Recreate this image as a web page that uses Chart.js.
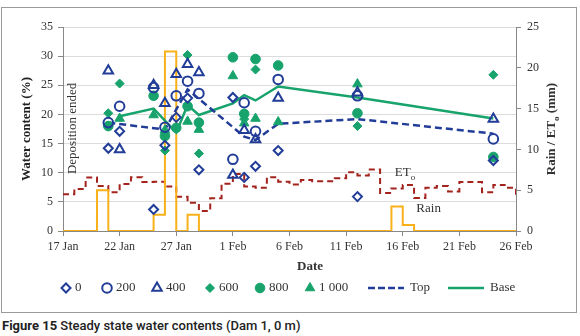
<!DOCTYPE html>
<html>
<head>
<meta charset="utf-8">
<script src="https://cdn.jsdelivr.net/npm/chart.js@4"></script>
<style>
body { margin: 0; background: #fff; width: 580px; height: 336px; position: relative; overflow: hidden; }
#frame { position: absolute; left: 1px; top: 7px; width: 574px; height: 304px; border: 1px solid #9a9a9a; }
#caption { position: absolute; left: 2px; top: 318px; font-family: "Liberation Sans Narrow", "Roboto", sans-serif; font-size: 13px; font-weight: 500; color: #222; white-space: nowrap; }
#caption b { font-weight: 700; }
</style>
</head>
<body>
<div id="frame"><canvas id="chart" width="574" height="304"></canvas></div>
<div id="caption"><b>Figure 15</b> Steady state water contents (Dam 1, 0 m)</div>
<script>
// x axis is days since 17 Jan
var dayLabels = ['17 Jan', '22 Jan', '27 Jan', '1 Feb', '6 Feb', '11 Feb', '16 Feb', '21 Feb', '26 Feb'];

// water content (%) per sensor depth (mm), on the sampling days
var sampleDays = [4, 5, 8, 9, 10, 11, 12, 15, 16, 17, 19, 26, 38];
var depth0    = [14.2, 17.1, 3.7, 14.7, 19.5, 22.8, 10.5, 22.9, 9.2, 11.1, 13.8, 5.9, 12.1];
var depth200  = [18.6, 21.4, 24.6, 17.8, 23.2, 25.7, 23.6, 12.3, 22.0, 17.1, 26.0, 23.2, 15.8];
var depth400  = [27.5, 14.0, 25.0, 21.9, 26.9, 28.6, 27.2, 9.6, 17.3, 15.7, 22.8, 23.7, 19.2];
var depth600  = [20.2, 25.3, null, 13.8, null, 30.2, 13.3, null, 19.2, 27.7, null, 18.0, 26.8];
var depth800  = [18.0, null, 23.2, 16.3, 17.7, 21.4, 18.6, 29.8, 20.1, 29.5, 28.4, 20.2, 12.7];
var depth1000 = [null, 19.3, 19.9, 17.3, null, 18.8, 17.4, 26.6, 18.5, 19.3, 18.7, 25.2, null];

var topDays = [4, 9, 11, 16, 17, 19, 26, 38];
var topValues = [18.6, 17.4, 24.3, 16.2, 15.6, 18.4, 19.2, 16.7];
var baseDays = [5, 8, 10, 11, 12, 15, 16, 17, 19, 26, 38];
var baseValues = [19.7, 21.0, 16.9, 21.6, 19.9, 21.9, 23.3, 22.4, 24.8, 22.9, 19.3];

// daily values (mm), day 0 = 17 Jan
var etoMm = [4.5, 5.15, 6.55, 5.5, 4.75, 5.75, 6.6, 6.0, 6.05, 5.45, 4.2, 3.45, 2.45, 4.0, 5.8, 7.0, 5.45, 5.3, 6.6, 6.05,
             5.7, 6.25, 6.1, 6.1, 6.45, 7.2, 6.8, 7.55, 4.65, 5.2, 5.65, 4.05, 5.3, 5.5, 4.85, 6.0, 6.0, 4.75, 5.65, 5.3, 4.0];
var rainMm = [0, 0, 0, 5.0, 0, 0, 0, 0, 2.0, 22.0, 0, 2.0, 0, 0, 0, 0, 0, 0, 0, 0,
              0, 0, 0, 0, 0, 0, 0, 0, 0, 3.0, 0.75, 0, 0, 0, 0, 0, 0, 0, 0, 0, 0];

var BLUE = '#223d98', GREEN = '#17a36b', RED = '#a3231d', ORANGE = '#f9b11a';
var SERIF = '"Liberation Serif", "DejaVu Serif", serif';

function pts(xs, ys) {
    var out = [];
    for (var i = 0; i < xs.length; i++) {
        if (ys[i] !== null) out.push({x: xs[i], y: ys[i]});
    }
    return out;
}
function daily(vals) {
    return vals.map(function (v, i) { return {x: i, y: v}; });
}

function marker(label, data, style, color, open, r) {
    return {
        label: label, data: pts(sampleDays, data),
        pointStyle: style, pointRadius: r, pointHoverRadius: r,
        borderColor: color, backgroundColor: open ? 'rgba(255,255,255,0)' : color,
        pointBorderWidth: open ? 2 : 1
    };
}

var legendItems = [
    {text: '0', x: 64, style: 'rectRot', color: BLUE, open: true, r: 4.5},
    {text: '200', x: 105, style: 'circle', color: BLUE, open: true, r: 4.8},
    {text: '400', x: 155, style: 'triangle', color: BLUE, open: true, r: 5.5},
    {text: '600', x: 208, style: 'rectRot', color: GREEN, open: false, r: 4.5},
    {text: '800', x: 258, style: 'circle', color: GREEN, open: false, r: 4.8},
    {text: '1 000', x: 308, style: 'triangle', color: GREEN, open: false, r: 5.5},
    {text: 'Top', x: 366, line: [7, 3], color: BLUE},
    {text: 'Base', x: 446, line: [], color: GREEN}
];

var extras = {
    id: 'extras',
    afterDraw: function (chart) {
        var ctx = chart.ctx, xs = chart.scales.x, y = chart.scales.y, y2 = chart.scales.y2;
        ctx.save();
        ctx.fillStyle = '#333';
        ctx.textBaseline = 'middle';

        // Deposition ended
        ctx.save();
        ctx.translate(xs.getPixelForValue(0.85), y.getPixelForValue(17.6));
        ctx.rotate(-Math.PI / 2);
        ctx.textAlign = 'center';
        ctx.font = '13px ' + SERIF;
        ctx.fillText('Deposition ended', 0, 0);
        ctx.restore();

        // ETo and Rain labels
        ctx.font = '13px ' + SERIF;
        ctx.textAlign = 'left';
        var ex = xs.getPixelForValue(29.3), ey = y2.getPixelForValue(7.2);
        ctx.fillText('ET', ex, ey);
        var w = ctx.measureText('ET').width;
        ctx.font = '9px ' + SERIF;
        ctx.fillText('o', ex + w, ey + 5);
        ctx.font = '13px ' + SERIF;
        ctx.fillText('Rain', xs.getPixelForValue(31.2), y2.getPixelForValue(2.8));

        // right axis title, reads bottom to top
        ctx.save();
        ctx.translate(550, (chart.chartArea.top + chart.chartArea.bottom) / 2);
        ctx.rotate(-Math.PI / 2);
        var a = 'Rain / ET', b = ' (mm)';
        ctx.font = 'bold 13px ' + SERIF;
        var wa = ctx.measureText(a).width, wb = ctx.measureText(b).width;
        ctx.font = 'bold 9px ' + SERIF;
        var wo = ctx.measureText('o').width;
        var x0 = -(wa + wo + wb) / 2;
        ctx.font = 'bold 13px ' + SERIF;
        ctx.fillText(a, x0, 0);
        ctx.fillText(b, x0 + wa + wo, 0);
        ctx.font = 'bold 9px ' + SERIF;
        ctx.fillText('o', x0 + wa, 5);
        ctx.restore();

        // x axis title
        ctx.font = 'bold 13px ' + SERIF;
        ctx.textAlign = 'center';
        ctx.fillText('Date', 308, 259);

        // legend row
        var ly = 280;
        legendItems.forEach(function (it) {
            ctx.strokeStyle = it.color;
            ctx.fillStyle = it.color;
            var tx;
            if (it.line) {
                ctx.lineWidth = 2.5;
                ctx.setLineDash(it.line);
                ctx.beginPath();
                ctx.moveTo(it.x, ly);
                ctx.lineTo(it.x + 36, ly);
                ctx.stroke();
                ctx.setLineDash([]);
                tx = it.x + 42;
            } else {
                ctx.lineWidth = it.open ? 2 : 1;
                ctx.fillStyle = it.open ? '#fff' : it.color;
                Chart.helpers.drawPoint(ctx, {pointStyle: it.style, radius: it.r, borderWidth: ctx.lineWidth, rotation: 0}, it.x, ly);
                tx = it.x + 9;
            }
            ctx.fillStyle = '#333';
            ctx.textAlign = 'left';
            ctx.font = '13px ' + SERIF;
            ctx.fillText(it.text, tx, ly);
        });
        ctx.restore();
    }
};

new Chart(document.getElementById('chart'), {
    type: 'scatter',
    data: {
        datasets: [
            marker('0', depth0, 'rectRot', BLUE, true, 4.5),
            marker('200', depth200, 'circle', BLUE, true, 4.8),
            marker('400', depth400, 'triangle', BLUE, true, 5.5),
            marker('600', depth600, 'rectRot', GREEN, false, 4.5),
            marker('800', depth800, 'circle', GREEN, false, 4.8),
            marker('1 000', depth1000, 'triangle', GREEN, false, 5.5),
            {label: 'Top', data: pts(topDays, topValues), showLine: true, pointRadius: 0,
             borderColor: BLUE, borderWidth: 2.5, borderDash: [7, 4]},
            {label: 'Base', data: pts(baseDays, baseValues), showLine: true, pointRadius: 0,
             borderColor: GREEN, borderWidth: 2.5},
            {label: 'Rain', data: daily(rainMm), yAxisID: 'y2', showLine: true, pointRadius: 0,
             stepped: true, borderColor: ORANGE, borderWidth: 2},
            {label: 'ETo', data: daily(etoMm), yAxisID: 'y2', showLine: true, pointRadius: 0,
             stepped: true, borderColor: RED, borderWidth: 2, borderDash: [6, 4]}
        ]
    },
    options: {
        responsive: false,
        animation: false,
        layout: {padding: {left: 0, right: 0, top: 19, bottom: 51}},
        plugins: {legend: {display: false}, tooltip: {enabled: false}},
        scales: {
            x: {
                type: 'linear', min: 0, max: 40,
                afterFit: function (s) { s.height = 30; },
                ticks: {stepSize: 5, padding: 4, color: '#333', font: {family: SERIF, size: 12},
                        callback: function (v) { return dayLabels[v / 5]; }},
                grid: {display: true, drawOnChartArea: false, tickLength: 5, color: '#888'},
                border: {color: '#888'}
            },
            y: {
                position: 'left', min: 0, max: 35,
                afterFit: function (s) { s.width = 61; },
                ticks: {stepSize: 5, padding: 5, color: '#333', font: {family: SERIF, size: 12}},
                grid: {color: '#dcdcdc', tickLength: 5, tickColor: '#888'},
                border: {color: '#888'},
                title: {display: true, text: 'Water content (%)', color: '#222',
                        font: {family: SERIF, size: 13, weight: 'bold'}, padding: {top: 17, bottom: 0}}
            },
            y2: {
                position: 'right', min: 0, max: 25,
                afterFit: function (s) { s.width = 60; },
                ticks: {stepSize: 5, padding: 6, color: '#333', font: {family: SERIF, size: 12}},
                grid: {drawOnChartArea: false, tickLength: 5, color: '#888'},
                border: {color: '#888'}
            }
        }
    },
    plugins: [extras]
});
</script>
</body>
</html>
